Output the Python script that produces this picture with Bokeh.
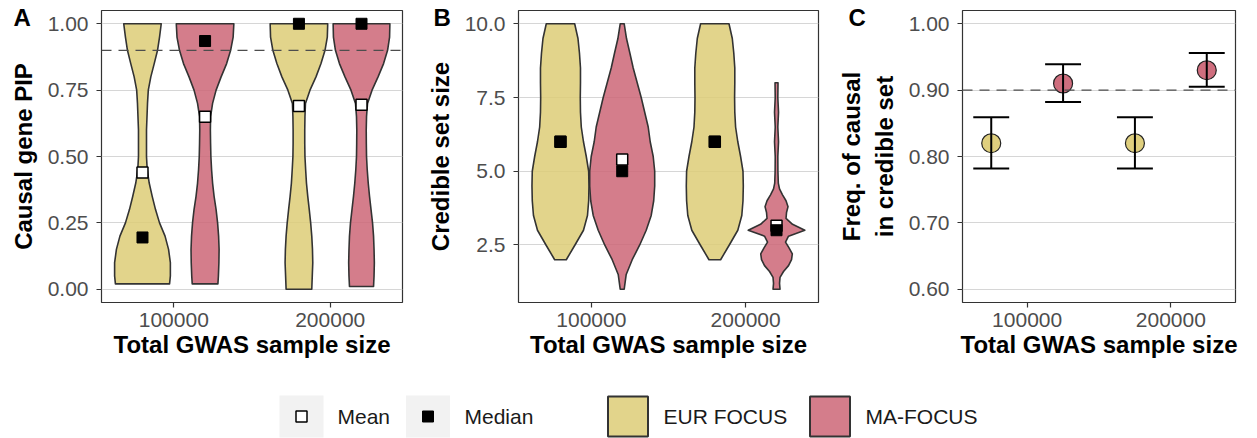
from bokeh.plotting import figure
from bokeh.models import Range1d, FixedTicker, Span, PrintfTickFormatter
from bokeh.layouts import column, row
from bokeh.embed import file_html
from bokeh.resources import INLINE
from bokeh.core.properties import value

# ---------------------------------------------------------------- data
sample_sizes = [100000, 200000]
methods = ["EUR FOCUS", "MA-FOCUS"]
stat_names = ["Mean", "Median"]

# Panel A: causal gene PIP violin outlines (y level, relative density)
pip_eur_100k_y = [0.02, 0.05, 0.10, 0.15, 0.20, 0.25, 0.30, 0.35, 0.40, 0.45, 0.50,
                  0.60, 0.70, 0.75, 0.80, 0.85, 0.90, 0.95, 1.00]
pip_eur_100k_d = [27.0, 27.8, 27.8, 26.0, 22.5, 17.0, 13.0, 9.7, 6.7, 4.7, 4.0,
                  4.0, 5.0, 5.8, 8.3, 11.7, 15.0, 17.0, 18.7]
pip_ma_100k_y = [0.02, 0.05, 0.10, 0.15, 0.20, 0.25, 0.30, 0.35, 0.40, 0.45, 0.50,
                 0.55, 0.60, 0.65, 0.70, 0.75, 0.80, 0.85, 0.90, 0.95, 1.00]
pip_ma_100k_d = [12.8, 13.3, 13.8, 14.0, 13.5, 12.5, 11.0, 9.0, 7.5, 6.5, 5.8,
                 5.5, 5.3, 5.5, 7.5, 11.0, 16.0, 21.5, 25.5, 28.0, 28.7]
pip_eur_200k_y = [0.00, 0.05, 0.10, 0.15, 0.20, 0.25, 0.30, 0.35, 0.40, 0.45, 0.50,
                  0.55, 0.60, 0.65, 0.70, 0.75, 0.80, 0.85, 0.90, 0.95, 1.00]
pip_eur_200k_d = [12.8, 13.3, 13.8, 13.5, 12.8, 11.7, 10.3, 8.8, 7.5, 6.7, 6.0,
                  5.8, 5.8, 6.0, 6.5, 11.0, 17.0, 22.0, 26.0, 28.3, 28.7]
pip_ma_200k_y = [0.01, 0.05, 0.10, 0.15, 0.20, 0.25, 0.30, 0.35, 0.40, 0.45, 0.50,
                 0.55, 0.60, 0.65, 0.70, 0.75, 0.80, 0.85, 0.90, 0.95, 1.00]
pip_ma_200k_d = [12.0, 12.5, 12.8, 12.5, 12.0, 11.0, 9.5, 8.0, 6.7, 5.7, 5.0,
                 4.8, 4.7, 5.0, 6.0, 10.5, 16.5, 22.0, 26.0, 28.0, 28.3]
pip_mean_eur = [0.44, 0.69]
pip_mean_ma = [0.65, 0.695]
pip_median_eur = [0.195, 1.00]
pip_median_ma = [0.935, 1.00]

# Panel B: credible set size violin outlines
cs_eur_100k_y = [2.0, 2.5, 3.0, 3.5, 4.0, 4.5, 5.0, 5.5, 6.0, 6.5, 7.0, 7.5, 8.0,
                 8.5, 9.0, 9.5, 10.0]
cs_eur_100k_d = [5.8, 14.5, 23.0, 27.0, 28.2, 28.5, 28.2, 25.8, 23.0, 20.8, 20.0,
                 19.8, 20.0, 20.0, 19.0, 17.5, 14.2]
cs_ma_100k_y = [1.0, 1.5, 2.0, 2.5, 3.0, 3.5, 4.0, 4.5, 5.0, 5.5, 6.0, 6.5, 7.0,
                7.5, 8.0, 8.5, 9.0, 9.5, 10.0]
cs_ma_100k_d = [2.0, 4.0, 10.0, 17.5, 24.0, 29.0, 31.5, 32.5, 32.5, 31.0, 28.0,
                26.0, 22.5, 19.0, 15.0, 11.0, 7.7, 4.3, 2.0]
cs_eur_200k_y = [2.0, 2.5, 3.0, 3.5, 4.0, 4.5, 5.0, 5.5, 6.0, 6.5, 7.0, 7.5, 8.0,
                 8.5, 9.0, 9.5, 10.0]
cs_eur_200k_d = [5.8, 14.5, 23.0, 27.0, 28.2, 28.5, 28.2, 25.8, 23.0, 20.8, 20.0,
                 19.8, 20.0, 20.0, 19.0, 17.5, 14.2]
cs_ma_200k_y = [1.0, 1.2, 1.4, 1.6, 1.8, 2.0, 2.2, 2.4, 2.6, 2.8, 3.0, 3.2, 3.4,
                3.6, 3.8, 4.0, 4.2, 4.4, 4.6, 5.0, 5.5, 6.0, 6.5, 7.0, 7.5, 8.0]
cs_ma_200k_d = [3.5, 3.0, 3.5, 7.0, 12.0, 15.0, 15.8, 12.5, 9.0, 12.0, 28.3, 16.0,
                9.5, 10.0, 11.5, 9.5, 6.0, 3.0, 1.8, 1.4, 1.3, 2.0, 1.3, 2.0, 1.3, 1.5]
cs_mean_eur = [6.0, 6.0]
cs_mean_ma = [5.4, 3.15]
cs_median_eur = [6.0, 6.0]
cs_median_ma = [5.0, 3.0]

# Panel C: frequency of the causal gene in the credible set, with 95% CI
freq_eur = [0.82, 0.82]
freq_eur_lo = [0.782, 0.782]
freq_eur_hi = [0.859, 0.859]
freq_ma = [0.91, 0.93]
freq_ma_lo = [0.882, 0.905]
freq_ma_hi = [0.939, 0.956]

pip_threshold = 0.9
coverage_target = 0.9

# ---------------------------------------------------------------- style
FONT = "Liberation Sans"
FILL = {"EUR FOCUS": "#DDCC77", "MA-FOCUS": "#CC6677"}
EDGE = "#333333"
H = 372
TOP = 10
BOTTOM = 70
FRAME_H = H - TOP - BOTTOM


def make_panel(width, left, right, xr, yr, yticks, yfmt, ylabel):
    p = figure(width=width, height=H, x_range=Range1d(*xr), y_range=Range1d(*yr),
               output_backend="svg", toolbar_location=None,
               min_border_left=left, min_border_right=right,
               min_border_top=TOP, min_border_bottom=BOTTOM)
    p.background_fill_color = "white"
    p.border_fill_color = "white"
    p.outline_line_color = EDGE
    p.outline_line_width = 1.2
    p.xgrid.grid_line_color = None
    p.ygrid.grid_line_color = "#D6D6D6"
    p.ygrid.grid_line_width = 1
    p.ygrid.ticker = FixedTicker(ticks=yticks)
    p.xaxis.ticker = FixedTicker(ticks=sample_sizes)
    p.xaxis.major_label_overrides = {s: str(s) for s in sample_sizes}
    p.yaxis.ticker = FixedTicker(ticks=yticks)
    p.yaxis.formatter = PrintfTickFormatter(format=yfmt)
    p.xaxis.axis_label = "Total GWAS sample size"
    p.yaxis.axis_label = ylabel
    for ax in (p.xaxis[0], p.yaxis[0]):
        ax.axis_line_color = None
        ax.major_tick_line_color = EDGE
        ax.major_tick_line_width = 1.2
        ax.major_tick_out = 5
        ax.major_tick_in = 0
        ax.minor_tick_line_color = None
        ax.major_label_text_font = FONT
        ax.major_label_text_font_size = "21px"
        ax.major_label_text_color = "#4D4D4D"
        ax.axis_label_text_font = FONT
        ax.axis_label_text_font_size = "24px"
        ax.axis_label_text_font_style = "bold"
        ax.axis_label_text_color = "black"
    p.yaxis.major_label_standoff = 8
    p.yaxis.axis_label_standoff = 8
    p.xaxis.major_label_standoff = 5
    p.xaxis.axis_label_standoff = 1
    return p


def panel_letter(p, letter, frame_w, dx_px, dy_px):
    # letter drawn on the overlay level so it may sit left of the frame
    xr, yr = p.x_range, p.y_range
    ux = (xr.end - xr.start) / frame_w
    uy = (yr.end - yr.start) / FRAME_H
    p.text(x=[xr.start + dx_px * ux], y=[yr.end - dy_px * uy], text=[letter],
           text_font=value(FONT), text_font_size="24px", text_font_style="bold",
           text_color="black", text_baseline="alphabetic", text_align="left",
           level="overlay")


def violin(p, center, ys, dens, scale, method):
    xs = [center - d * scale for d in dens] + [center + d * scale for d in reversed(dens)]
    yy = list(ys) + list(reversed(ys))
    p.patch(xs, yy, fill_color=FILL[method], fill_alpha=0.85,
            line_color=EDGE, line_width=1.6, line_join="round")


def stats(p, xs, means, medians):
    p.scatter(xs, means, marker="square", size=11, fill_color="white",
              line_color="black", line_width=1.5)
    p.scatter(xs, medians, marker="square", size=11, fill_color="black",
              line_color="black", line_width=1)


DODGE_V = 20000
DODGE_P = 25000

# ---------------------------------------------------------------- panel A
pa = make_panel(410, 101, 8, (53800, 246200), (-0.05, 1.05),
                [0, 0.25, 0.5, 0.75, 1.0], "%.2f", "Causal gene PIP")
pa.add_layout(Span(location=pip_threshold, dimension="width", line_color="#4D4D4D",
                   line_width=1.3, line_dash="10 7"))
sa = 641.0
violin(pa, sample_sizes[0] - DODGE_V, pip_eur_100k_y, pip_eur_100k_d, sa, methods[0])
violin(pa, sample_sizes[0] + DODGE_V, pip_ma_100k_y, pip_ma_100k_d, sa, methods[1])
violin(pa, sample_sizes[1] - DODGE_V, pip_eur_200k_y, pip_eur_200k_d, sa, methods[0])
violin(pa, sample_sizes[1] + DODGE_V, pip_ma_200k_y, pip_ma_200k_d, sa, methods[1])
stats(pa, [s - DODGE_V for s in sample_sizes], pip_mean_eur, pip_median_eur)
stats(pa, [s + DODGE_V for s in sample_sizes], pip_mean_ma, pip_median_ma)
panel_letter(pa, "A", 301, -88, 7)

# ---------------------------------------------------------------- panel B
pb = make_panel(412, 108, 4, (52800, 247200), (0.55, 10.45),
                [2.5, 5.0, 7.5, 10.0], "%.1f", "Credible set size")
sb = 648.0
violin(pb, sample_sizes[0] - DODGE_V, cs_eur_100k_y, cs_eur_100k_d, sb, methods[0])
violin(pb, sample_sizes[0] + DODGE_V, cs_ma_100k_y, cs_ma_100k_d, sb, methods[1])
violin(pb, sample_sizes[1] - DODGE_V, cs_eur_200k_y, cs_eur_200k_d, sb, methods[0])
violin(pb, sample_sizes[1] + DODGE_V, cs_ma_200k_y, cs_ma_200k_d, sb, methods[1])
stats(pb, [s - DODGE_V for s in sample_sizes], cs_mean_eur, cs_median_eur)
stats(pb, [s + DODGE_V for s in sample_sizes], cs_mean_ma, cs_median_ma)
panel_letter(pb, "B", 300, -85, 7)

# ---------------------------------------------------------------- panel C
pc = make_panel(435, 140, 22, (55000, 245000), (0.58, 1.02),
                [0.6, 0.7, 0.8, 0.9, 1.0], "%.2f", "Freq. of causal\nin credible set")
pc.add_layout(Span(location=coverage_target, dimension="width", line_color="#4D4D4D",
                   line_width=1.3, line_dash="10 7"))
CAP = 12500
for offs, vals, lo, hi, m in [(-DODGE_P, freq_eur, freq_eur_lo, freq_eur_hi, methods[0]),
                              (DODGE_P, freq_ma, freq_ma_lo, freq_ma_hi, methods[1])]:
    xs = [s + offs for s in sample_sizes]
    pc.scatter(xs, vals, marker="circle", size=19, fill_color=FILL[m], fill_alpha=0.95,
               line_color="#222222", line_width=1.2)
    pc.segment(xs, lo, xs, hi, line_color="black", line_width=2)
    pc.segment([x - CAP for x in xs], lo, [x + CAP for x in xs], lo,
               line_color="black", line_width=2)
    pc.segment([x - CAP for x in xs], hi, [x + CAP for x in xs], hi,
               line_color="black", line_width=2)
panel_letter(pc, "C", 273, -114, 7)

# ---------------------------------------------------------------- legend strip
LW, LH = 1257, 66
leg = figure(width=LW, height=LH, x_range=Range1d(0, LW), y_range=Range1d(0, LH),
             output_backend="svg", toolbar_location=None, min_border=0)
leg.axis.visible = False
leg.grid.visible = False
leg.outline_line_color = None
leg.background_fill_color = "white"
leg.border_fill_color = "white"
ky = 22
# stat keys on grey tiles
leg.rect([301, 427.5], [ky, ky], width=44, height=42, fill_color="#F2F2F2", line_color=None)
leg.scatter([301], [ky], marker="square", size=11, fill_color="white",
            line_color="black", line_width=1.5)
leg.scatter([427.5], [ky], marker="square", size=11, fill_color="black", line_color="black")
# method fill keys
leg.rect([627.5, 829.5], [ky, ky], width=40, height=40,
         fill_color=[FILL[m] for m in methods], fill_alpha=0.85,
         line_color=EDGE, line_width=2)
leg.text([337, 464, 663, 865], [ky] * 4, text=stat_names + methods,
         text_baseline="middle", text_align="left", text_font=value(FONT),
         text_font_size="21px", text_color="#1A1A1A")

layout = column(row(pa, pb, pc), leg)
open("out.html", "w").write(file_html(layout, INLINE))
